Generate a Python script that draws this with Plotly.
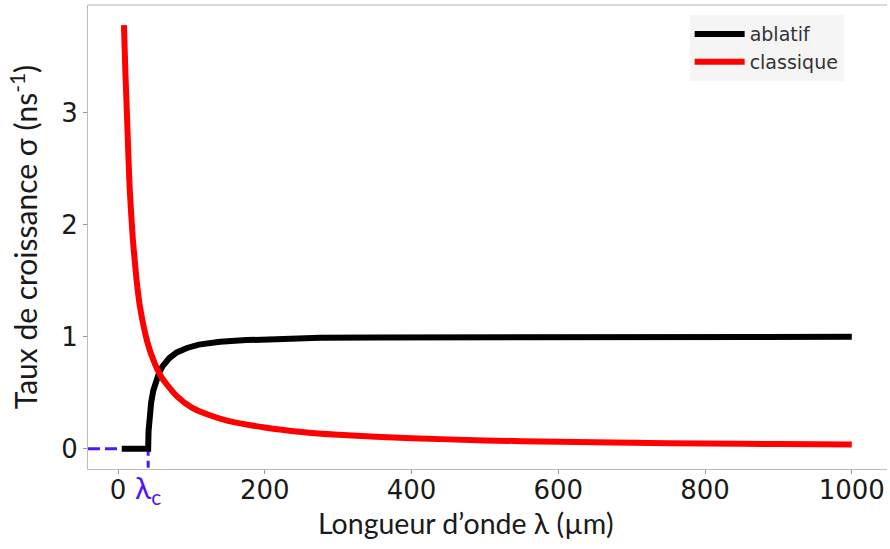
import plotly.graph_objects as go

# --- data ---
lambda_classique = [8, 10, 12, 14, 16, 20, 25, 30, 40, 50, 60, 80, 100, 125, 150,
                    200, 250, 300, 400, 500, 600, 700, 800, 900, 1000]
sigma_classique = [3.78, 3.35, 3.00, 2.62, 2.30, 1.88, 1.52, 1.26, 0.95, 0.76, 0.63,
                   0.47, 0.37, 0.30, 0.25, 0.19, 0.15, 0.125, 0.095, 0.075,
                   0.063, 0.054, 0.047, 0.042, 0.038]

lambda_ablatif = [5, 41, 41.5, 42, 43, 45, 48, 52, 56, 61, 70, 80, 94, 110, 139,
                  175, 220, 275, 350, 450, 600, 800, 1000]
sigma_ablatif = [0, 0, 0.155, 0.22, 0.30, 0.41, 0.52, 0.615, 0.68, 0.74, 0.81,
                 0.86, 0.90, 0.93, 0.955, 0.97, 0.98, 0.99, 0.993, 0.996, 0.998,
                 0.999, 1.0]

lambda_c = 41
x_ticks = [0, 200, 400, 600, 800, 1000]
y_ticks = [0, 1, 2, 3]
X_RANGE = [-41, 1048]
Y_RANGE = [-0.18, 3.96]

BLUE = "#5014ff"
TITLE_FONT = "Lato"
TICK_FONT = "DejaVu Sans"

fig = go.Figure()

# lambda_c guides
fig.add_trace(go.Scatter(x=[X_RANGE[0], lambda_c], y=[0, 0], mode="lines",
                         line=dict(color=BLUE, width=3, dash="12px,5px"),
                         showlegend=False, hoverinfo="skip"))
fig.add_trace(go.Scatter(x=[lambda_c, lambda_c], y=[0, Y_RANGE[0]], mode="lines",
                         line=dict(color=BLUE, width=3, dash="7px,5px"),
                         showlegend=False, hoverinfo="skip"))

fig.add_trace(go.Scatter(x=lambda_ablatif, y=sigma_ablatif, mode="lines",
                         name="ablatif", line=dict(color="black", width=6)))
fig.add_trace(go.Scatter(x=lambda_classique, y=sigma_classique, mode="lines",
                         name="classique",
                         line=dict(color="#ff0000", width=6, shape="spline",
                                   smoothing=0.6)))

fig.add_annotation(x=lambda_c, y=0, yref="y", xref="x", yshift=-40,
                   text="λ<sub>c</sub>", showarrow=False,
                   font=dict(family=TITLE_FONT, size=30, color=BLUE))

# x-axis title
fig.add_annotation(x=0.473, y=-0.116, xref="paper", yref="paper",
                   xanchor="center", yanchor="middle", showarrow=False,
                   text="Longueur d’onde λ (µm)",
                   font=dict(family=TITLE_FONT, size=28.5, color="#1a1a1a"))

fig.update_layout(
    width=890, height=549,
    margin=dict(l=88, r=3, t=5, b=80),
    paper_bgcolor="white", plot_bgcolor="white",
    showlegend=True,
    legend=dict(x=0.753, y=0.978, xanchor="left", yanchor="top",
                bgcolor="#f5f5f5", borderwidth=0,
                font=dict(family=TICK_FONT, size=19, color="#333333"),
                itemwidth=50),
    xaxis=dict(range=X_RANGE, tickvals=x_ticks, showgrid=False, zeroline=False,
               showline=True, linecolor="#bbbbbb", linewidth=1.2, mirror=False,
               ticks="outside", ticklen=4, tickcolor="#999999", automargin=False,
               ticklabelstandoff=-6,
               tickfont=dict(family=TICK_FONT, size=26, color="#1a1a1a")),
    yaxis=dict(range=Y_RANGE, tickvals=y_ticks, showgrid=False, zeroline=False,
               showline=True, linecolor="#bbbbbb", linewidth=1.2, automargin=False,
               ticks="outside", ticklen=4, tickcolor="#999999",
               tickfont=dict(family=TICK_FONT, size=26, color="#1a1a1a"),
               title=dict(text="Taux de croissance σ (ns<sup>-1</sup>)", standoff=14,
                          font=dict(family=TITLE_FONT, size=30, color="#1a1a1a"))),
)
# top border line
fig.add_shape(type="line", xref="paper", yref="paper", x0=0, x1=1, y0=1, y1=1,
              line=dict(color="#cccccc", width=1.5))

fig.write_html("out.html",
               config={"displayModeBar": False},
               post_script="document.body.style.margin='0';")
